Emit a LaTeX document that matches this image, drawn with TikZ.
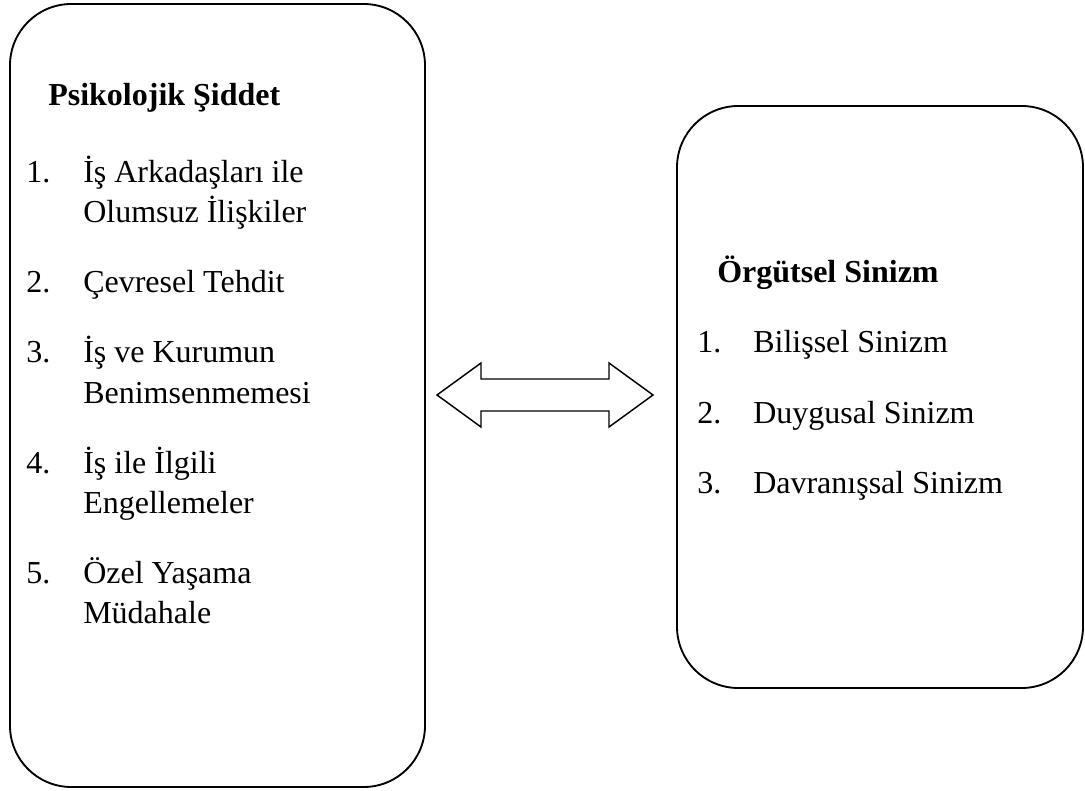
\documentclass[tikz,border=0pt]{standalone}
\usepackage{fontspec}
\setmainfont{Liberation Serif}

\begin{document}
\begin{tikzpicture}[x=0.75pt,y=-0.75pt,
		every node/.style={inner sep=0pt, anchor=base west, font=\fontsize{24}{30}\selectfont},
		kutu/.style={draw, line width=1.4pt, rounded corners=46pt},
		baslik/.style={font=\fontsize{24}{30}\selectfont\bfseries}]
	\useasboundingbox (0,0) rectangle (1085,791);
	% kutular
	\draw[kutu] (10,4) rectangle (425,787);
	\draw[kutu] (677,106) rectangle (1083,688);
	% sol kutu
	\node[baslik] (psi) at (48,106) {Psikolojik Şiddet};
	\node (n1) at (26,183) {1.};
	\node (m1a) at (83,183) {İş Arkadaşları ile};
	\node (m1b) at (83,223) {Olumsuz İlişkiler};
	\node (n2) at (26,293) {2.};
	\node (m2a) at (83,293) {Çevresel Tehdit};
	\node (n3) at (26,363) {3.};
	\node (m3a) at (83,363) {İş ve Kurumun};
	\node (m3b) at (83,403) {Benimsenmemesi};
	\node (n4) at (26,473) {4.};
	\node (m4a) at (83,473) {İş ile İlgili};
	\node (m4b) at (83,513) {Engellemeler};
	\node (n5) at (26,583) {5.};
	\node (m5a) at (83,583) {Özel Yaşama};
	\node (m5b) at (83,623) {Müdahale};
	% sag kutu
	\node[baslik] (org) at (717,283) {Örgütsel Sinizm};
	\node (s1) at (697,353) {1.};
	\node (t1) at (753,353) {Bilişsel Sinizm};
	\node (s2) at (697,423) {2.};
	\node (t2) at (753,423) {Duygusal Sinizm};
	\node (s3) at (697,493) {3.};
	\node (t3) at (753,493) {Davranışsal Sinizm};
	% cift yonlu ok
	\coordinate (ok) at (545,395);
	\draw[line width=1.1pt, line join=miter] (ok) ++(-108,0) -- ++(44,-32) -- ++(0,16)
		-- ++(128,0) -- ++(0,-16) -- ++(44,32) -- ++(-44,32) -- ++(0,-16)
		-- ++(-128,0) -- ++(0,16) -- cycle;
\end{tikzpicture}
\end{document}
